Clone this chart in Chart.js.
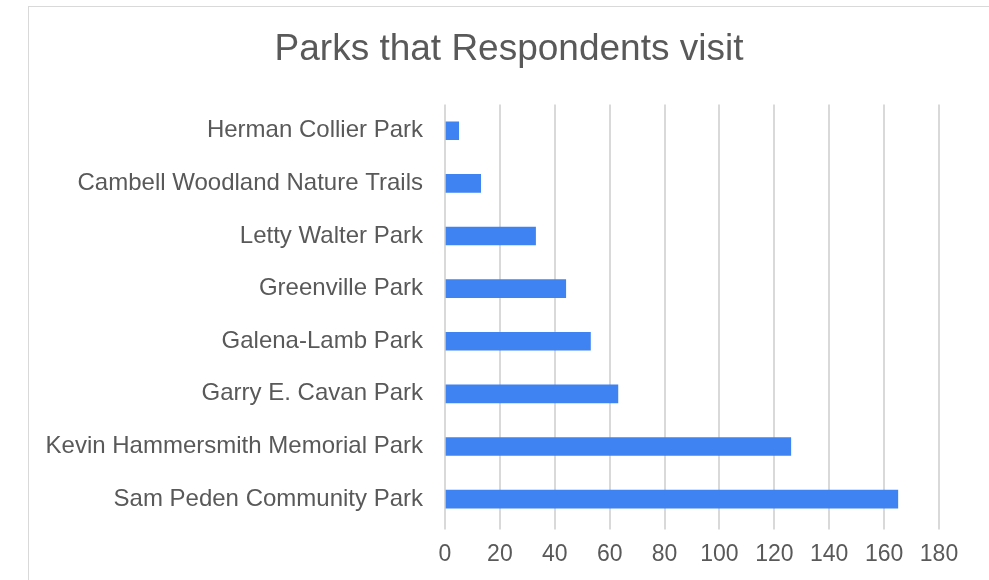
<!DOCTYPE html>
<html>
<head>
<meta charset="utf-8">
<script src="https://cdn.jsdelivr.net/npm/chart.js@4/dist/chart.umd.min.js"></script>
<style>
  html, body { margin: 0; padding: 0; background: #fff; }
  body { width: 989px; height: 580px; position: relative; overflow: hidden; }
  #box {
    position: absolute; left: 28px; top: 6px; width: 970px; height: 580px;
    border: 1px solid #d9d9d9; box-sizing: border-box; background: #fff;
  }
  #chart { display: block; }
</style>
</head>
<body>
<div id="box"><canvas id="chart" width="968" height="578"></canvas></div>
<script>
const parks = [
    "Herman Collier Park",
    "Cambell Woodland Nature Trails",
    "Letty Walter Park",
    "Greenville Park",
    "Galena-Lamb Park",
    "Garry E. Cavan Park",
    "Kevin Hammersmith Memorial Park",
    "Sam Peden Community Park"
];
const visits = [5, 13, 33, 44, 53, 63, 126, 165];
const xMax = 180;
const xStep = 20;

const textColor = "#595959";
const gridColor = "#d9d9d9";
const fontFamily = "'Liberation Sans', Arial, sans-serif";

// the title sits centred over the whole box, not over the padded area
const shiftTitle = {
    id: "shiftTitle",
    afterLayout(chart) {
        const t = chart.titleBlock;
        if (t) { t.left += 20; t.right += 20; }
    }
};

const ctx = document.getElementById("chart").getContext("2d");
const chart = new Chart(ctx, {
    type: "bar",
    data: {
        labels: parks,
        datasets: [{
            label: "Visits",
            data: visits,
            backgroundColor: "#3f82f2",
            barThickness: 18
        }]
    },
    options: {
        indexAxis: "y",
        responsive: false,
        animation: false,
        layout: {
            padding: { left: 10, right: 58, top: 0, bottom: 6 }
        },
        plugins: {
            legend: { display: false },
            tooltip: { enabled: false },
            title: {
                display: true,
                text: "Parks that Respondents visit",
                color: textColor,
                font: { family: fontFamily, size: 37, weight: "normal" },
                padding: { top: 21, bottom: 32 }
            }
        },
        scales: {
            x: {
                min: 0,
                max: xMax,
                ticks: {
                    stepSize: xStep,
                    color: textColor,
                    font: { family: fontFamily, size: 23 },
                    padding: 11
                },
                grid: {
                    color: gridColor,
                    lineWidth: 2,
                    drawTicks: true,
                    tickLength: 4,
                    tickColor: gridColor
                },
                border: { display: false }
            },
            y: {
                afterFit: function(scale) {
                    scale.width = 406; // plot left edge at the same place as the reference
                },
                ticks: {
                    color: textColor,
                    font: { family: fontFamily, size: 24 },
                    padding: 22
                },
                grid: { display: false, drawTicks: false },
                border: { display: false }
            }
        }
    },
    plugins: [shiftTitle]
});
</script>
</body>
</html>
